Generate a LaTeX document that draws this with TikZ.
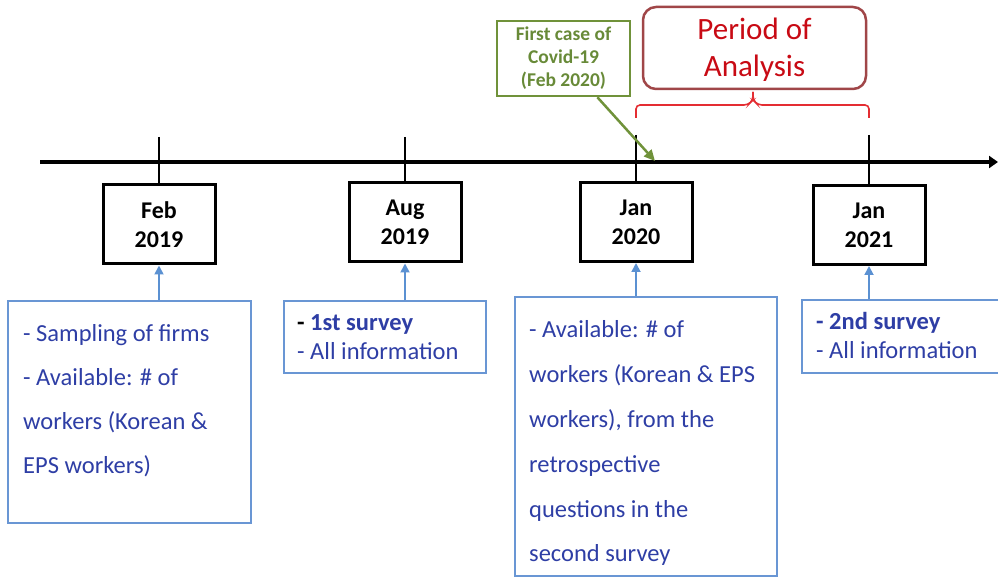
\documentclass[tikz,border=0pt]{standalone}
\usepackage{fontspec}
\setmainfont{Carlito}
\usetikzlibrary{arrows.meta,calc}
\definecolor{txtblue}{RGB}{46,62,165}
\definecolor{boxblue}{RGB}{105,150,212}
\definecolor{arrblue}{RGB}{91,145,210}
\definecolor{olivebox}{RGB}{112,146,58}
\definecolor{olivetxt}{RGB}{104,138,56}
\definecolor{boxred}{RGB}{160,70,72}
\definecolor{txtred}{RGB}{200,10,20}
\definecolor{bracered}{RGB}{228,45,50}
\tikzset{
  datebox/.style={draw, line width=3pt, minimum width=112pt, minimum height=79pt, inner sep=0pt, align=center, font=\fontsize{24}{29}\selectfont\bfseries},
  bluebox/.style={draw=boxblue, line width=1.6pt, inner sep=0pt},
  btxt/.style={text=txtblue, anchor=base west, inner sep=0pt, font=\fontsize{24.5}{29}\selectfont},
  tickline/.style={line width=2.5pt},
  bluearrow/.style={draw=arrblue, line width=1.8pt, -{Triangle[length=9pt,width=9pt]}},
}
\begin{document}
\begin{tikzpicture}[x=1pt,y=-1pt]
\useasboundingbox (0,0) rectangle (998,577);
\clip (0,0) rectangle (998,577);

% timeline
\coordinate (tlA) at (40,162);
\coordinate (tlB) at (998,162);
\draw[line width=3.5pt, -{Triangle[length=9pt,width=12pt]}] (tlA) -- (tlB);

% date boxes
\node[datebox] (d1) at (159,224.5) {Feb\\2019};
\node[datebox] (d2) at (405,222.5) {Aug\\2019};
\node[datebox] (d3) at (636,222) {Jan\\2020};
\node[datebox] (d4) at (869,225) {Jan\\2021};

% ticks
\coordinate (t1) at (159,137);
\coordinate (t2) at (405,137);
\coordinate (t3) at (636,135);
\coordinate (t4) at (869,135);
\draw[tickline] (t1) -- (d1.north);
\draw[tickline] (t2) -- (d2.north);
\draw[tickline] (t3) -- (d3.north);
\draw[tickline] (t4) -- (d4.north);

% blue boxes
\node[bluebox, minimum width=243pt, minimum height=222pt] (b1) at (129.5,412) {};
\node[bluebox, minimum width=202pt, minimum height=72pt] (b2) at (385,337) {};
\node[bluebox, minimum width=262pt, minimum height=279pt] (b3) at (646,436.5) {};
\node[bluebox, minimum width=206pt, minimum height=73pt] (b4) at (905,336.5) {};

\draw[bluearrow] (d1.south |- b1.north) -- (d1.south);
\draw[bluearrow] (d2.south |- b2.north) -- (d2.south);
\draw[bluearrow] (d3.south |- b3.north) -- (d3.south);
\draw[bluearrow] (d4.south |- b4.north) -- (d4.south);

% box texts
\node[btxt] (b1a) at (23,341) {- Sampling of firms};
\node[btxt] (b1b) at (23,385) {- Available: \# of};
\node[btxt] (b1c) at (23,429) {workers (Korean \&};
\node[btxt] (b1d) at (23,473) {EPS workers)};

\node[btxt] (b2a) at (297,330) {\textbf{\textcolor{black}{-} 1st survey}};
\node[btxt] (b2b) at (297,359) {- All information};

\node[btxt] (b3a) at (529,337) {- Available: \# of};
\node[btxt] (b3b) at (529,382) {workers (Korean \& EPS};
\node[btxt] (b3c) at (529,427) {workers), from the};
\node[btxt] (b3d) at (529,472) {retrospective};
\node[btxt] (b3e) at (529,517) {questions in the};
\node[btxt] (b3f) at (529,561) {second survey};

\node[btxt] (b4a) at (816,329) {\textbf{- 2nd survey}};
\node[btxt] (b4b) at (816,358) {- All information};

% Covid box
\node[draw=olivebox, line width=2.5pt, minimum width=133pt, minimum height=75pt, inner sep=0pt, align=center, text=olivetxt, font=\fontsize{19.5}{23}\selectfont\bfseries] (cov) at (563.5,58.5) {First case of\\Covid-19\\(Feb 2020)};
\coordinate (covS) at ($(cov.south west)!0.75!(cov.south east)$);
\coordinate (covE) at (655,161);
\draw[draw=olivebox, line width=2.5pt, -{Triangle[length=11pt,width=10pt]}] (covS) -- (covE);

% Period of analysis
\node[draw=boxred, line width=2.5pt, rounded corners=13pt, minimum width=223pt, minimum height=82pt, inner sep=0pt] (poa) at (754.5,48) {};
\node[align=center, text=txtred, inner sep=0pt, font=\fontsize{31}{37}\selectfont] (poat) at (754.5,50) {Period of\\Analysis};

% brace
\coordinate (brL) at (636,118);
\coordinate (brR) at (869,118);
\coordinate (brT) at (753,92);
\draw[draw=bracered, line width=1.6pt, rounded corners=4pt] (brL) -- (636,105) -- (748,105) -- (753,100) -- (brT);
\draw[draw=bracered, line width=1.6pt, rounded corners=4pt] (brR) -- (869,105) -- (758,105) -- (753,100) -- (brT);
\end{tikzpicture}
\end{document}
